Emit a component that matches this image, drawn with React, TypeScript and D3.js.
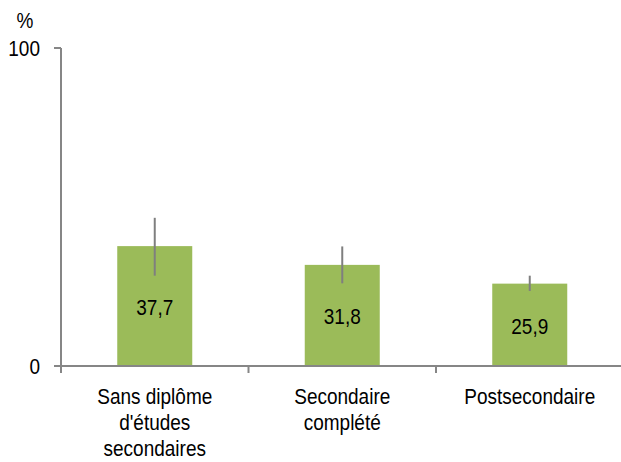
import React from "react";
import * as d3 from "d3";

const categories: string[][] = [
  ["Sans diplôme", "d'études", "secondaires"],
  ["Secondaire", "complété"],
  ["Postsecondaire"],
];
const values: number[] = [37.7, 31.8, 25.9];
const lower: number[] = [28.4, 26.0, 23.6];
const upper: number[] = [46.6, 37.6, 28.4];
const yTicks: number[] = [0, 100];

const W = 621;
const H = 462;
const FONT = "'Liberation Sans', Arial, sans-serif";
const FS = 19;
const SY = 1.2;

function T({
  x,
  y,
  anchor = "middle",
  children,
}: {
  x: number;
  y: number;
  anchor?: string;
  children: React.ReactNode;
}) {
  return (
    <g transform={`translate(${x},${y}) scale(1,${SY})`}>
      <text x={0} y={0} textAnchor={anchor as any} fontSize={FS} fill="#000">
        {children}
      </text>
    </g>
  );
}

export default function App() {
  const keys = categories.map((c) => c.join(" "));
  const x = d3
    .scaleBand<string>()
    .domain(keys)
    .range([61, 623.5])
    .paddingInner(0.6)
    .paddingOuter(0.3);
  const step = x.step();
  const x0 = 61;
  const y = d3.scaleLinear().domain([0, 100]).range([366, 48]);
  const axisColor = "#868686";
  const fmt = (v: number) => v.toFixed(1).replace(".", ",");

  return (
    <svg
      width={W}
      height={H}
      style={{ position: "absolute", left: 0, top: 0, background: "#fff" }}
      fontFamily={FONT}
    >
      {values.map((v, i) => (
        <rect
          key={"b" + i}
          x={x(keys[i])!}
          y={y(v)}
          width={x.bandwidth()}
          height={y(0) - y(v)}
          fill="#9bbb59"
        />
      ))}
      {values.map((v, i) => {
        const cx = x(keys[i])! + x.bandwidth() / 2;
        return (
          <line
            key={"e" + i}
            x1={cx}
            x2={cx}
            y1={y(upper[i])}
            y2={y(lower[i])}
            stroke="#7f7f7f"
            strokeWidth={2}
          />
        );
      })}
      {values.map((v, i) => {
        const cx = x(keys[i])! + x.bandwidth() / 2;
        const mid = (y(v) + y(0)) / 2;
        return (
          <T key={"l" + i} x={cx} y={mid + 9}>
            {fmt(v)}
          </T>
        );
      })}
      <line x1={x0} x2={x0} y1={y(100)} y2={y(0)} stroke={axisColor} strokeWidth={2} />
      {yTicks.map((t) => (
        <g key={"yt" + t}>
          <line x1={54} x2={x0} y1={y(t)} y2={y(t)} stroke={axisColor} strokeWidth={2} />
          <T x={40} y={y(t) + 8} anchor="end">
            {t}
          </T>
        </g>
      ))}
      <T x={25} y={28}>
        %
      </T>
      <line x1={54} x2={W} y1={y(0)} y2={y(0)} stroke={axisColor} strokeWidth={2} />
      {d3.range(keys.length + 1).map((i) => (
        <line
          key={"xt" + i}
          x1={x0 + i * step}
          x2={x0 + i * step}
          y1={y(0)}
          y2={y(0) + 7}
          stroke={axisColor}
          strokeWidth={2}
        />
      ))}
      {categories.map((lines, i) => {
        const cx = x(keys[i])! + x.bandwidth() / 2;
        return lines.map((ln, j) => (
          <T key={"c" + i + "-" + j} x={cx} y={403.5 + j * 26}>
            {ln}
          </T>
        ));
      })}
    </svg>
  );
}
